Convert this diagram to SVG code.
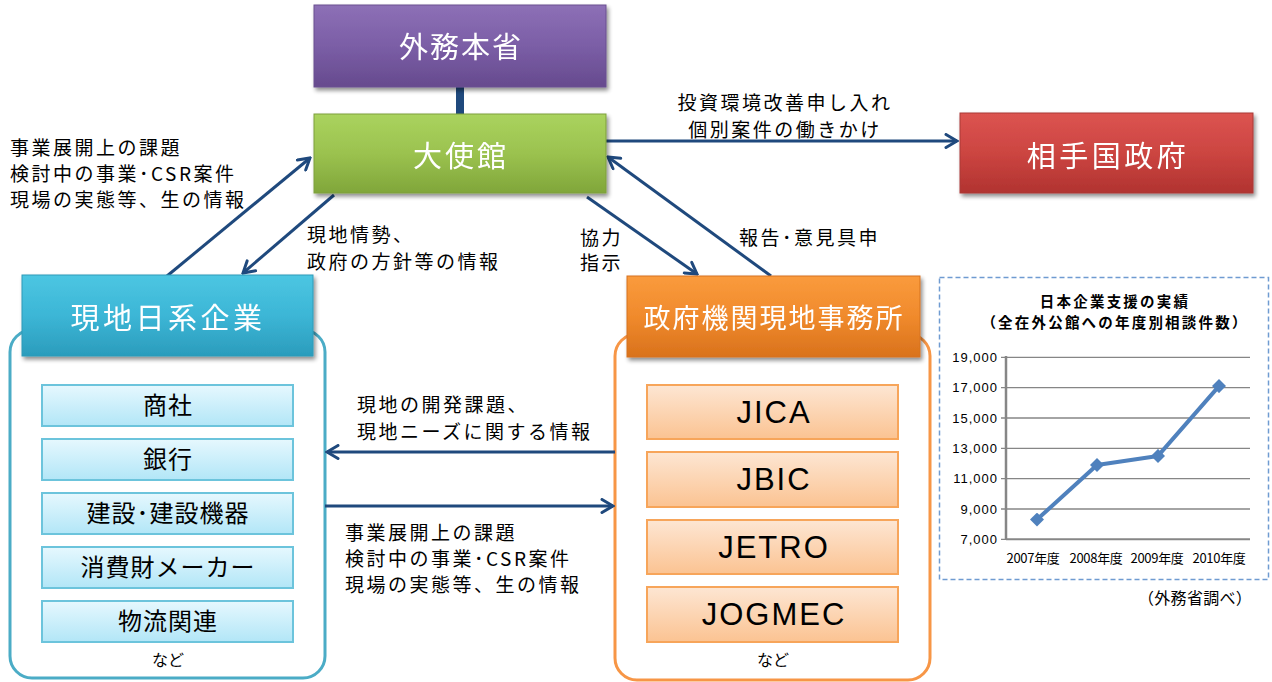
<svg xmlns="http://www.w3.org/2000/svg" width="1272" height="682" viewBox="0 0 1272 682">
<style>
.hdr{font-family:"Noto Sans CJK JP",sans-serif;fill:#fff;text-anchor:middle}
.lbl{font-family:"Noto Sans CJK JP",sans-serif;font-size:19px;letter-spacing:2.5px;fill:#000}
.item{font-family:"Noto Sans CJK JP",sans-serif;font-size:24px;letter-spacing:1px;fill:#000;text-anchor:middle}
.org{font-family:"Liberation Sans",Arial,sans-serif;font-size:31px;letter-spacing:2px;fill:#000;text-anchor:middle}
.nado{font-family:"Noto Sans CJK JP",sans-serif;font-size:16px;fill:#000;text-anchor:middle}
.conn{stroke:#1f497d;stroke-width:3;fill:none;marker-end:url(#ah)}
.tick{font-family:"Liberation Sans",Arial,sans-serif;font-size:13px;letter-spacing:1px;fill:#000;text-anchor:end}
.xl{font-family:"Noto Sans CJK JP",sans-serif;font-size:13px;letter-spacing:-0.3px;fill:#000;text-anchor:middle}
.grid{stroke:#868686;stroke-width:1.3}
.cyan{fill:url(#gCyan);stroke:#6cc4dc;stroke-width:2}
.peach{fill:url(#gPeach);stroke:#f7a55a;stroke-width:2}
</style>
<defs>
<filter id="sh" x="-10%" y="-10%" width="125%" height="140%">
<feGaussianBlur in="SourceAlpha" stdDeviation="2"/>
<feOffset dx="2" dy="3" result="b"/>
<feComponentTransfer><feFuncA type="linear" slope="0.45"/></feComponentTransfer>
<feMerge><feMergeNode/><feMergeNode in="SourceGraphic"/></feMerge>
</filter>
<linearGradient id="gPurple" x1="0" y1="0" x2="0" y2="1"><stop offset="0" stop-color="#8d70b6"/><stop offset="0.5" stop-color="#7b5ea6"/><stop offset="1" stop-color="#664a8e"/></linearGradient>
<linearGradient id="gGreen" x1="0" y1="0" x2="0" y2="1"><stop offset="0" stop-color="#aad35e"/><stop offset="0.5" stop-color="#9bc24f"/><stop offset="1" stop-color="#80a63a"/></linearGradient>
<linearGradient id="gRed" x1="0" y1="0" x2="0" y2="1"><stop offset="0" stop-color="#dc5451"/><stop offset="0.5" stop-color="#cc4541"/><stop offset="1" stop-color="#b13330"/></linearGradient>
<linearGradient id="gBlue" x1="0" y1="0" x2="0" y2="1"><stop offset="0" stop-color="#4cc6e2"/><stop offset="0.5" stop-color="#3cb6d6"/><stop offset="1" stop-color="#2b9cbc"/></linearGradient>
<linearGradient id="gOrange" x1="0" y1="0" x2="0" y2="1"><stop offset="0" stop-color="#fa9b3d"/><stop offset="0.5" stop-color="#f08a2c"/><stop offset="1" stop-color="#d9721c"/></linearGradient>
<linearGradient id="gCyan" x1="0" y1="0" x2="0" y2="1"><stop offset="0" stop-color="#e6f8fe"/><stop offset="1" stop-color="#b2e6f7"/></linearGradient>
<linearGradient id="gPeach" x1="0" y1="0" x2="0" y2="1"><stop offset="0" stop-color="#fde6d3"/><stop offset="1" stop-color="#fbc392"/></linearGradient>
<marker id="ah" viewBox="0 0 16 16" markerWidth="16" markerHeight="16" refX="14" refY="8" orient="auto" markerUnits="userSpaceOnUse">
<path d="M3,1.5 L14,8 L3,14.5" fill="none" stroke="#1f497d" stroke-width="3" stroke-linejoin="miter" stroke-linecap="round"/>
</marker>
<marker id="dm" viewBox="0 0 14 14" markerWidth="14" markerHeight="14" refX="7" refY="7" markerUnits="userSpaceOnUse">
<path d="M7,0 L14,7 L7,14 L0,7 Z" fill="#4f81bd"/>
</marker>
</defs>

<!-- Containers -->
<g id="container-companies">
<rect x="10" y="330" width="315" height="348" rx="22" ry="22" fill="#fff" stroke="#4bacc6" stroke-width="3"/>
</g>
<g id="container-agencies">
<rect x="615" y="334" width="315" height="346" rx="22" ry="22" fill="#fff" stroke="#f79646" stroke-width="3"/>
</g>

<!-- Connectors -->
<g id="connectors">
<line x1="460" y1="87" x2="460" y2="114" stroke="#1f497d" stroke-width="8"/>
<line class="conn" x1="606" y1="141" x2="957" y2="141"/>
<line class="conn" x1="167" y1="276" x2="310" y2="158"/>
<line class="conn" x1="334" y1="195" x2="243" y2="273"/>
<line class="conn" x1="587" y1="197" x2="697" y2="274"/>
<line class="conn" x1="771" y1="276" x2="608" y2="157"/>
<line class="conn" x1="615" y1="452" x2="327" y2="452"/>
<line class="conn" x1="325" y1="506" x2="613" y2="506"/>
</g>

<!-- Header nodes -->
<g id="node-gaimu" filter="url(#sh)">
<rect x="314" y="5" width="292" height="82" fill="url(#gPurple)" stroke="#6a5090" stroke-width="1"/>
<text class="hdr" x="461" y="58" font-size="29" letter-spacing="2">外務本省</text>
</g>
<g id="node-taishikan" filter="url(#sh)">
<rect x="314" y="114" width="292" height="79" fill="url(#gGreen)" stroke="#7e9f3c" stroke-width="1"/>
<text class="hdr" x="461" y="167" font-size="29" letter-spacing="3">大使館</text>
</g>
<g id="node-aitekoku" filter="url(#sh)">
<rect x="960" y="113" width="293" height="80" fill="url(#gRed)" stroke="#a93a37" stroke-width="1"/>
<text class="hdr" x="1108" y="167" font-size="29" letter-spacing="3.5">相手国政府</text>
</g>
<g id="node-nikkei" filter="url(#sh)">
<rect x="22" y="275" width="291" height="81" fill="url(#gBlue)" stroke="#2f9ab8" stroke-width="1"/>
<text class="hdr" x="168" y="329" font-size="29" letter-spacing="3.5">現地日系企業</text>
</g>
<g id="node-seifukikan" filter="url(#sh)">
<rect x="627" y="276" width="293" height="81" fill="url(#gOrange)" stroke="#d6721e" stroke-width="1"/>
<text class="hdr" x="774" y="328" font-size="27" letter-spacing="2">政府機関現地事務所</text>
</g>

<!-- Company items -->
<g id="node-shosha"><rect class="cyan" x="42" y="385" width="251" height="41"/><text class="item" x="168" y="414">商社</text></g>
<g id="node-ginko"><rect class="cyan" x="42" y="439" width="251" height="41"/><text class="item" x="168" y="468">銀行</text></g>
<g id="node-kensetsu"><rect class="cyan" x="42" y="493" width="251" height="41"/><text class="item" x="168" y="522">建設･建設機器</text></g>
<g id="node-shohizai"><rect class="cyan" x="42" y="547" width="251" height="41"/><text class="item" x="168" y="576">消費財メーカー</text></g>
<g id="node-butsuryu"><rect class="cyan" x="42" y="601" width="251" height="41"/><text class="item" x="168" y="630">物流関連</text></g>
<text class="nado" x="168" y="666">など</text>

<!-- Agency items -->
<g id="node-jica"><rect class="peach" x="647" y="385" width="251" height="54"/><text class="org" x="774" y="423">JICA</text></g>
<g id="node-jbic"><rect class="peach" x="647" y="452" width="251" height="55"/><text class="org" x="774" y="490">JBIC</text></g>
<g id="node-jetro"><rect class="peach" x="647" y="520" width="251" height="54"/><text class="org" x="774" y="558">JETRO</text></g>
<g id="node-jogmec"><rect class="peach" x="647" y="587" width="251" height="55"/><text class="org" x="774" y="625">JOGMEC</text></g>
<text class="nado" x="773" y="666">など</text>

<!-- Connector labels -->
<g id="labels">
<text class="lbl" x="785" y="110" text-anchor="middle">投資環境改善申し入れ</text>
<text class="lbl" x="785" y="137" text-anchor="middle">個別案件の働きかけ</text>
<text class="lbl" x="10" y="155">事業展開上の課題</text>
<text class="lbl" x="10" y="181">検討中の事業･CSR案件</text>
<text class="lbl" x="10" y="207">現場の実態等、生の情報</text>
<text class="lbl" x="307" y="242">現地情勢、</text>
<text class="lbl" x="307" y="269">政府の方針等の情報</text>
<text class="lbl" x="580" y="245">協力</text>
<text class="lbl" x="580" y="270">指示</text>
<text class="lbl" x="739" y="245">報告･意見具申</text>
<text class="lbl" x="357" y="412">現地の開発課題、</text>
<text class="lbl" x="357" y="439">現地ニーズに関する情報</text>
<text class="lbl" x="345" y="540">事業展開上の課題</text>
<text class="lbl" x="345" y="566">検討中の事業･CSR案件</text>
<text class="lbl" x="345" y="592">現場の実態等、生の情報</text>
</g>

<!-- Chart -->
<g id="chart">
<rect x="939.5" y="277.5" width="329" height="302" fill="#fff" stroke="#6f9bd1" stroke-width="1.5" stroke-dasharray="5,3"/>
<text x="1115" y="307" font-family="'Noto Sans CJK JP',sans-serif" font-size="14.5" font-weight="bold" letter-spacing="2.2" text-anchor="middle">日本企業支援の実績</text>
<text x="1115" y="328" font-family="'Noto Sans CJK JP',sans-serif" font-size="14.5" font-weight="bold" letter-spacing="2.2" text-anchor="middle">（全在外公館への年度別相談件数）</text>
<line class="grid" x1="1006" y1="357.3" x2="1250" y2="357.3"/>
<line class="grid" x1="1006" y1="387.6" x2="1250" y2="387.6"/>
<line class="grid" x1="1006" y1="418" x2="1250" y2="418"/>
<line class="grid" x1="1006" y1="448.3" x2="1250" y2="448.3"/>
<line class="grid" x1="1006" y1="478.6" x2="1250" y2="478.6"/>
<line class="grid" x1="1006" y1="509" x2="1250" y2="509"/>
<line x1="1006" y1="539.3" x2="1250" y2="539.3" stroke="#868686" stroke-width="2"/>
<line x1="1006" y1="356" x2="1006" y2="540" stroke="#868686" stroke-width="2.5"/>
<path d="M1001,357.3H1006M1001,387.6H1006M1001,418H1006M1001,448.3H1006M1001,478.6H1006M1001,509H1006M1001,539.3H1006" stroke="#868686" stroke-width="1.3"/>
<text class="tick" x="998" y="362">19,000</text>
<text class="tick" x="998" y="392">17,000</text>
<text class="tick" x="998" y="423">15,000</text>
<text class="tick" x="998" y="453">13,000</text>
<text class="tick" x="998" y="483">11,000</text>
<text class="tick" x="998" y="514">9,000</text>
<text class="tick" x="998" y="544">7,000</text>
<polyline points="1037,519.6 1097,465 1158,455.9 1219,386.1" fill="none" stroke="#4f81bd" stroke-width="4" stroke-linejoin="round" marker-start="url(#dm)" marker-mid="url(#dm)" marker-end="url(#dm)"/>
<text class="xl" x="1033" y="563">2007年度</text>
<text class="xl" x="1096" y="563">2008年度</text>
<text class="xl" x="1157" y="563">2009年度</text>
<text class="xl" x="1219" y="563">2010年度</text>
<text x="1138" y="604" font-family="'Noto Sans CJK JP',sans-serif" font-size="16" letter-spacing="0.3">（外務省調べ）</text>
</g>
</svg>
